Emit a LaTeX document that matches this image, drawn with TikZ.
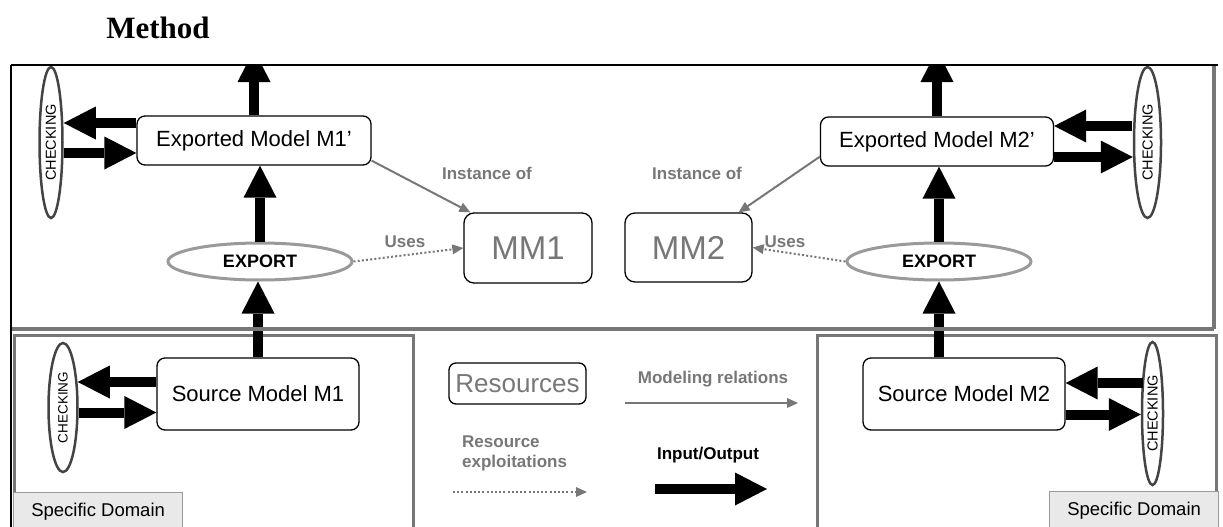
\documentclass[tikz,border=0pt]{standalone}
\usepackage{fontspec}
\usepackage{graphicx}
\setmainfont{Liberation Sans}
\newfontfamily\titlefont{Liberation Serif}
\usetikzlibrary{arrows.meta,shapes.geometric}
\definecolor{framegray}{HTML}{777777}
\definecolor{txtgray}{HTML}{777777}
\definecolor{exgray}{HTML}{9A9A9A}
\definecolor{ckgray}{HTML}{444444}
\definecolor{domfill}{HTML}{E9E9E9}
\begin{document}
\begin{tikzpicture}[x=1pt,y=-1pt,
  model/.style={draw=black, line width=1.3pt, rounded corners=8pt, fill=white, inner sep=0pt, font=\fontsize{22}{26}\selectfont},
  meta/.style={draw=black, line width=1.3pt, rounded corners=10pt, fill=white, inner sep=0pt, text=txtgray},
  checkell/.style={ellipse, draw=ckgray, line width=2.5pt, fill=white, inner sep=0pt, font=\fontsize{14.5}{16}\selectfont},
  exportell/.style={ellipse, draw=exgray, line width=3pt, fill=white, inner sep=0pt, font=\bfseries\fontsize{18}{20}\selectfont},
  glabel/.style={text=txtgray, font=\bfseries\fontsize{17}{20}\selectfont, inner sep=0pt},
  ioarrow/.style={line width=10pt, -{Triangle[length=32pt,width=33pt,line width=0pt]}},
  relarrow/.style={draw=framegray, line width=2pt, -{Triangle[length=11pt,width=10pt,line width=0pt]}},
  usearrow/.style={draw=framegray, line width=2pt, dash pattern=on 2pt off 2.2pt, -{Triangle[length=11pt,width=10pt,line width=0pt]}},
  domainbox/.style={draw=exgray, line width=1.2pt, fill=domfill, inner sep=0pt, font=\fontsize{18.5}{20}\selectfont}
]
\useasboundingbox (0,0) rectangle (1223,527);

% title
\node[font=\titlefont\bfseries\fontsize{31}{34}\selectfont, inner sep=0pt] (title) at (158,28) {Method};

% lower panels
\draw[framegray, line width=3pt] (14,560) -- (14,335.5) -- (413,335.5) -- (413,560);
\draw[framegray, line width=3pt] (817,560) -- (817,335.5) -- (1216.5,335.5) -- (1216.5,560);
\node[domainbox, minimum width=169pt, minimum height=38pt, anchor=north west] (dom1) at (13,492) {Specific Domain};
\node[domainbox, minimum width=169pt, minimum height=38pt, anchor=north west] (dom2) at (1049,491) {Specific Domain};

% nodes
\node[model, minimum width=234pt, minimum height=49pt] (em1) at (254,140.5) {Exported Model M1’};
\node[model, minimum width=233pt, minimum height=49pt] (em2) at (937,141.5) {Exported Model M2’};
\node[model, minimum width=202pt, minimum height=72pt] (sm1) at (258,394) {Source Model M1};
\node[model, minimum width=202pt, minimum height=72pt] (sm2) at (964,394) {Source Model M2};
\node[meta, minimum width=128pt, minimum height=70pt, font=\fontsize{33}{36}\selectfont] (mm1) at (528,248) {MM1};
\node[meta, minimum width=127pt, minimum height=69pt, font=\fontsize{33}{36}\selectfont] (mm2) at (688.5,247.5) {MM2};
\node[meta, rounded corners=7pt, minimum width=137pt, minimum height=41pt, font=\fontsize{26}{28}\selectfont] (res) at (517.5,383.5) {Resources};
\node[exportell, minimum width=184pt, minimum height=37pt] (ex1) at (260,261.5) {EXPORT};
\node[exportell, minimum width=184pt, minimum height=37pt] (ex2) at (939,261.5) {EXPORT};
\node[checkell, minimum width=23pt, minimum height=151pt] (ck1) at (51,142.5) {\rotatebox{90}{CHECKING}};
\node[checkell, minimum width=27pt, minimum height=151pt] (ck2) at (1147.5,142.5) {\rotatebox{90}{CHECKING}};
\node[checkell, minimum width=29pt, minimum height=129pt, font=\fontsize{13.5}{15}\selectfont] (ck3) at (63,407.5) {\rotatebox{90}{CHECKING}};
\node[checkell, minimum width=21pt, minimum height=143pt] (ck4) at (1152.5,413.5) {\rotatebox{90}{CHECKING}};

% labels
\node[glabel] (inst1) at (487,173) {Instance of};
\node[glabel] (inst2) at (697,173) {Instance of};
\node[glabel] (uses1) at (405,242) {Uses};
\node[glabel] (uses2) at (785,242) {Uses};

% modeling relations
\draw[relarrow] ([yshift=5pt]em1.south east) -- ([xshift=7pt]mm1.north west);
\draw[relarrow] ([yshift=10pt]em2.south west) -- ([xshift=-14pt]mm2.north east);
\draw[usearrow] (ex1.east) -- (mm1.west);
\draw[usearrow] (ex2.west) -- (mm2.east);

% input/output arrows
\coordinate (top1) at (254,50);
\coordinate (top2) at (937,50);
\begin{scope}
  \clip (0,65) rectangle (1223,527);
  \draw[ioarrow] (em1.north) -- (top1);
  \draw[ioarrow] (em2.north) -- (top2);
\end{scope}
\draw[ioarrow] (ex1.north) -- (ex1.north |- em1.south);
\draw[ioarrow] (sm1.north) -- (sm1.north |- ex1.south);
\draw[ioarrow] (ex2.north) -- (ex2.north |- em2.south);
\draw[ioarrow] (sm2.north -| ex2.south) -- (ex2.south);
\draw[ioarrow] ([yshift=17.5pt]em1.west) -- ([yshift=19.5pt]ck1.east);
\draw[ioarrow] ([yshift=-10.5pt]ck1.east) -- ([yshift=-12.5pt]em1.west);
\draw[ioarrow] ([yshift=16.5pt,xshift=-1pt]ck2.west) -- ([yshift=15.5pt]em2.east);
\draw[ioarrow] ([yshift=-15.5pt]em2.east) -- ([yshift=-14.5pt]ck2.west);
\draw[ioarrow] ([yshift=12pt]sm1.west) -- ([yshift=25.5pt,xshift=-1pt]ck3.east);
\draw[ioarrow] ([yshift=-5pt]ck3.east) -- ([yshift=-18.5pt]sm1.west);
\draw[ioarrow] ([yshift=30.5pt,xshift=2pt]ck4.west) -- ([yshift=11pt]sm2.east);
\draw[ioarrow] ([yshift=-20.5pt]sm2.east) -- ([yshift=-1pt]ck4.west);

% top frame
\draw[framegray, line width=4pt] (11,329) -- (1214,329);
\draw[framegray, line width=3.5pt] (1214,65) -- (1214,329);
\draw[black, line width=2.5pt] (11,65) -- (1218,65);
\draw[black, line width=2.5pt] (11,65) -- (11,530);

% legend
\node[glabel] (lgmod) at (713,379) {Modeling relations};
\coordinate (lm1) at (625,403);
\coordinate (lm2) at (798,403);
\draw[relarrow] (lm1) -- (lm2);
\node[glabel, align=left, anchor=west, font=\bfseries\fontsize{17}{20}\selectfont] (lgres) at (462,453) {Resource\\exploitations};
\coordinate (lr1) at (453,492);
\coordinate (lr2) at (587,492);
\draw[usearrow] (lr1) -- (lr2);
\node[glabel, text=black] (lgio) at (708,455) {Input/Output};
\coordinate (li1) at (655,489);
\coordinate (li2) at (767,489);
\draw[ioarrow] (li1) -- (li2);
\end{tikzpicture}
\end{document}
